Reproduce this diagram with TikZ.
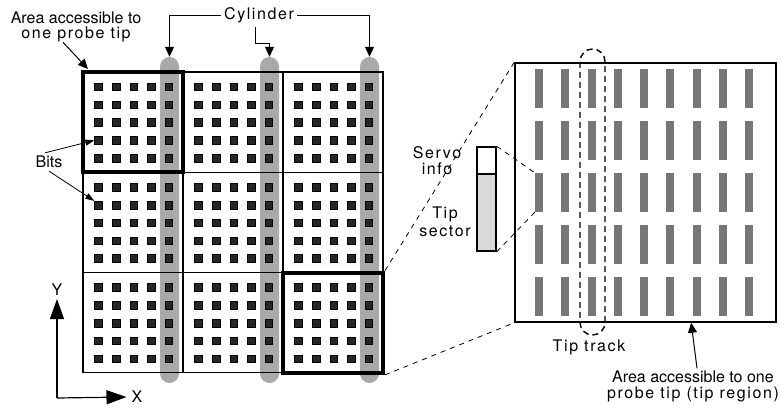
\documentclass[tikz,border=0pt]{standalone}
\usepackage{fontspec}
\setmainfont{TeX Gyre Heros}
\newfontfamily\spaced[LetterSpace=10]{TeX Gyre Heros}
\usepackage{tikz}
\usetikzlibrary{arrows.meta,positioning,calc}
\definecolor{CylGray}{HTML}{A9A9A9}
\definecolor{BarGray}{HTML}{777777}
\definecolor{BitFill}{HTML}{262626}
\definecolor{SecGray}{HTML}{D9D9D9}

\begin{document}
\begin{tikzpicture}[x=1pt, y=-1pt,
  every node/.style={font=\fontsize{16}{16}\selectfont, inner sep=0pt},
  cell/.style={rectangle, draw, line width=1.1pt, minimum width=100pt,
               minimum height=100.3pt},
  bit/.style={rectangle, draw=black, fill=BitFill, line width=0.6pt,
              minimum size=7.6pt},
  cyl/.style={rectangle, rounded corners=9.5pt, fill=CylGray,
              minimum width=19pt, minimum height=326pt},
  tbox/.style={rectangle, draw, line width=4pt, minimum width=100pt,
               minimum height=100.3pt},
  region/.style={rectangle, draw, line width=1.5pt, minimum width=261pt,
                 minimum height=259pt},
  bar/.style={rectangle, fill=BarGray, minimum width=8pt, minimum height=39pt},
  track/.style={rectangle, draw, dash pattern=on 6pt off 4pt, line width=1.4pt,
                rounded corners=12.5pt, minimum width=25pt, minimum height=286pt},
  sbox/.style={rectangle, draw, line width=1.5pt, minimum width=19pt},
  arr/.style={-{Triangle[length=10pt,width=9pt]}, line width=1pt},
  sarr/.style={-{Triangle[length=9pt,width=6pt]}, line width=0.8pt},
  ax/.style={-{Triangle[length=20pt,width=14pt]}, line width=1.2pt},
  zoom/.style={line width=0.8pt, dash pattern=on 5pt off 5pt},
]
\useasboundingbox (0,0) rectangle (781,407);

%% ─ Cylinders ───────────────────────────────────────────────────────────────
\foreach \n in {1,2,3}
  \node[cyl] (cyl\n) at (69.5+100*\n, 220) {};

%% ─ Cells and bits ──────────────────────────────────────────────────────────
\foreach \i in {0,1,2}
  \foreach \j in {0,1,2}
    \node[cell] (c-\i-\j) at (133+100*\i, 122.15+100.3*\j) {};
\foreach \i in {0,1,2}
  \foreach \j in {0,1,2}
    \foreach \k in {0,...,4}
      \foreach \l in {0,...,4}
        \node[bit] (b-\i-\j-\k-\l) at ($(c-\i-\j.north west)+(16+17.6*\k, 15.5+17.8*\l)$) {};

\node[tbox] (tlbox) at (c-0-0) {};
\node[tbox] (brbox) at (c-2-2) {};

%% ─ Labels, left ────────────────────────────────────────────────────────────
\node[align=center, font=\fontsize{16}{15}\selectfont] (tiplbl) at (76,27)
     {Area accessible to\\{\spaced one probe tip}};
\node (cyllbl) at (259,15) {\spaced Cylinder};
\node (bitslbl) at (49,162) {Bits};

\draw[arr] ([xshift=-13pt]tiplbl.south) -- ([xshift=7pt,yshift=1pt]tlbox.north west);
\draw[arr] ([xshift=-3pt]cyllbl.west) -| (cyl1.north);
\draw[arr] ([xshift=3pt]cyllbl.east)  -| (cyl3.north);
\draw[arr] ([xshift=-4pt,yshift=-4pt]cyllbl.south) -- ++(0,17) -| (cyl2.north);
\draw[sarr] ([xshift=-4pt,yshift=3pt]bitslbl.north) -- (b-0-0-0-3.west);
\draw[sarr] ([yshift=-3pt]bitslbl.south) -- (b-0-1-0-1.north west);

%% ─ Axes ────────────────────────────────────────────────────────────────────
\coordinate (orig) at (57,398);
\node (ylbl) at (57,290) {Y};
\node (xlbl) at (137,397) {X};
\draw[ax] (orig) -- ([yshift=-3pt]ylbl.south);
\draw[ax] (orig) -- ([xshift=-5pt]xlbl.west);

%% ─ Tip region ──────────────────────────────────────────────────────────────
\node[region] (tipreg) at (645.5,192.5) {};
\foreach \c in {0,...,8}
  \foreach \r in {0,...,4}
    \node[bar] (bar-\c-\r) at (539+26.25*\c, 88.5+52*\r) {};
\node[track] (tiptrack) at (592.5,192) {};
\node (tracklbl) at (589,347) {\spaced Tip track};

%% ─ Servo / sector box ──────────────────────────────────────────────────────
\node[sbox, fill=white, minimum height=27pt] (servobox) at (486.5,160.5) {};
\node[sbox, fill=SecGray, minimum height=77pt] (sectorbox) at (486.5,212.5) {};
\node[align=center, font=\fontsize{16}{16}\selectfont] (servolbl) at (437,161)
     {\spaced Servo\\\spaced info};
\node[align=center, font=\fontsize{16}{18}\selectfont] (sectorlbl) at (445,222)
     {\spaced Tip\\\spaced sector};

%% ─ Zoom lines ──────────────────────────────────────────────────────────────
\draw[zoom] (brbox.north east) -- (tipreg.north west);
\draw[zoom] (brbox.south east) -- (tipreg.south west);
\draw[zoom] (servobox.north east) -- (bar-0-2.north west);
\draw[zoom] (sectorbox.south east) -- (bar-0-2.south west);

%% ─ Region label ────────────────────────────────────────────────────────────
\node[align=center] (reglbl) at (693,386)
     {Area accessible to one\\{\spaced probe tip (tip region)}};
\draw[arr] ([xshift=4pt,yshift=2pt]reglbl.north)
  -- ($(tipreg.south west)!0.674!(tipreg.south east)$);

\end{tikzpicture}
\end{document}
